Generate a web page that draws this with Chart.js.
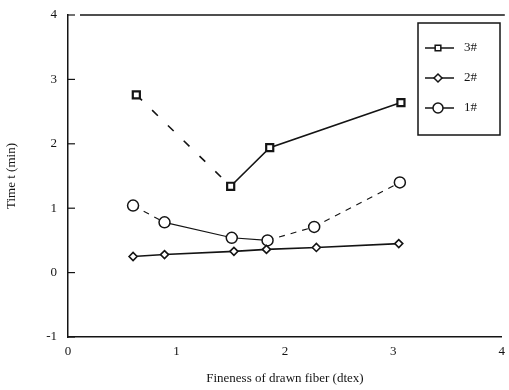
<!DOCTYPE html>
<html><head><meta charset="utf-8">
<script src="https://cdn.jsdelivr.net/npm/chart.js@4.4.0/dist/chart.umd.min.js"></script>
<style>html,body{margin:0;padding:0;background:#fff}#wrap{width:509px;height:390px}</style>
</head><body><div id="wrap"><canvas id="c" width="509" height="390"></canvas></div>
<script>
const seriesNames = ['3#', '2#', '1#'];
const xSquare = [0.63, 1.5, 1.86, 3.07];
const ySquare = [2.76, 1.34, 1.94, 2.64];
const xDiamond = [0.6, 0.89, 1.53, 1.83, 2.29, 3.05];
const yDiamond = [0.25, 0.28, 0.33, 0.36, 0.39, 0.45];
const xCircle = [0.6, 0.89, 1.51, 1.84, 2.27, 3.06];
const yCircle = [1.04, 0.78, 0.54, 0.5, 0.71, 1.40];
const yTicks = [-1, 0, 1, 2, 3, 4];
const xTicks = [0, 1, 2, 3, 4];

const pts = (xs, ys) => xs.map((x, i) => ({x, y: ys[i]}));
const FONT = '"Liberation Serif", "DejaVu Serif", serif';
const INK = '#141414';

const frame = {
  id: 'frame',
  afterDraw(chart) {
    const {ctx, chartArea: a, scales: {y}} = chart;
    ctx.save();
    ctx.strokeStyle = INK; ctx.lineWidth = 1.5;
    ctx.beginPath(); ctx.moveTo(a.left + 12, a.top); ctx.lineTo(a.right + 3, a.top); ctx.stroke();
    ctx.lineWidth = 1.2;
    yTicks.forEach(v => {
      const py = y.getPixelForValue(v);
      ctx.beginPath(); ctx.moveTo(a.left, py); ctx.lineTo(a.left + 7, py); ctx.stroke();
    });
    // legend
    const bx = 418, by = 23, bw = 82, bh = 112;
    ctx.lineWidth = 1.5;
    ctx.strokeRect(bx, by, bw, bh);
    const rows = [48, 78, 108];
    const styles = ['rect', 'rectRot', 'circle'];
    ctx.font = '13px ' + FONT; ctx.fillStyle = INK; ctx.textBaseline = 'middle';
    rows.forEach((ry, i) => {
      ctx.lineWidth = 1.5;
      ctx.beginPath(); ctx.moveTo(bx + 7, ry); ctx.lineTo(bx + 36, ry); ctx.stroke();
      ctx.fillStyle = '#fff';
      Chart.helpers.drawPoint(ctx, {pointStyle: styles[i], radius: i === 2 ? 5 : 4, borderWidth: 1.6}, bx + 20, ry);
      ctx.fillStyle = INK;
      ctx.fillText(seriesNames[i], bx + 46, ry);
    });
    ctx.restore();
  }
};

new Chart(document.getElementById('c'), {
  type: 'scatter',
  data: {
    datasets: [
      {label: seriesNames[0], data: pts(xSquare, ySquare), showLine: true, pointStyle: 'rect', pointRadius: 5,
       borderColor: INK, backgroundColor: '#fff', borderWidth: 1.6, pointBorderWidth: 2.2,
       segment: {borderDash: c => c.p0DataIndex === 0 ? [8, 14] : undefined}},
      {label: seriesNames[1], data: pts(xDiamond, yDiamond), showLine: true, pointStyle: 'rectRot', pointRadius: 4,
       borderColor: INK, backgroundColor: '#fff', borderWidth: 1.6, pointBorderWidth: 1.6},
      {label: seriesNames[2], data: pts(xCircle, yCircle), showLine: true, pointStyle: 'circle', pointRadius: 5.5,
       borderColor: INK, backgroundColor: '#fff', borderWidth: 1.1, pointBorderWidth: 1.5,
       segment: {borderDash: c => (c.p0DataIndex === 0 || c.p0DataIndex >= 3) ? [6, 6] : undefined}}
    ]
  },
  options: {
    responsive: false, animation: false,
    layout: {padding: {top: 15, right: 3, bottom: 0, left: 0}},
    plugins: {legend: {display: false}, tooltip: {enabled: false}},
    scales: {
      x: {
        type: 'linear', min: 0, max: 4,
        afterBuildTicks: s => { s.ticks = xTicks.map(v => ({value: v})); },
        afterFit: s => { s.height = 53; s.paddingLeft = 0; s.paddingRight = 0; },
        grid: {drawOnChartArea: false, drawTicks: false},
        border: {color: INK, width: 1.5},
        ticks: {color: INK, font: {family: FONT, size: 13}, padding: 7},
        title: {display: true, text: 'Fineness of drawn fiber (dtex)', color: INK, font: {family: FONT, size: 13}, padding: {top: 3}}
      },
      y: {
        type: 'linear', min: -1, max: 4,
        afterBuildTicks: s => { s.ticks = yTicks.map(v => ({value: v})); },
        afterFit: s => { s.width = 68; s.paddingTop = 0; s.paddingBottom = 0; },
        grid: {drawOnChartArea: false, drawTicks: false},
        border: {color: INK, width: 1.5},
        ticks: {color: INK, font: {family: FONT, size: 13}, padding: 11},
        title: {display: true, text: 'Time t (min)', color: INK, font: {family: FONT, size: 13}, padding: {bottom: 6}}
      }
    }
  },
  plugins: [frame]
});
</script></body></html>
